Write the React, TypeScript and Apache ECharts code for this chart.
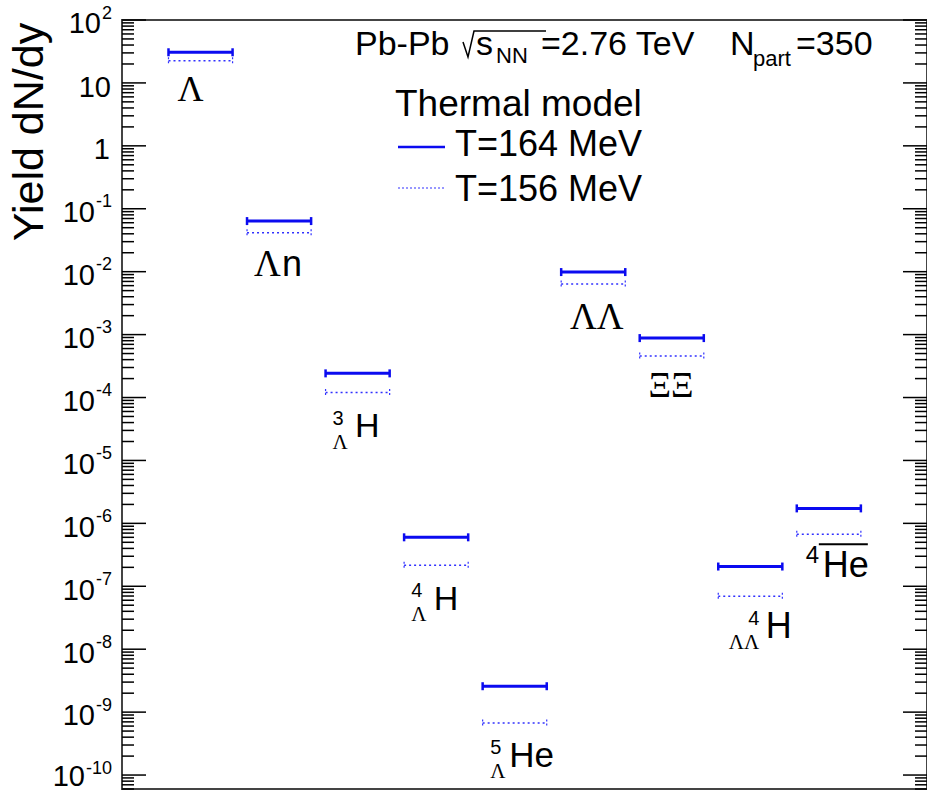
import React, { useEffect, useRef } from "react";
import * as echarts from "echarts";

// ---------------- data ----------------
const particles = ["Λ", "Λn", "³ΛH", "⁴ΛH", "⁵ΛHe", "ΛΛ", "ΞΞ", "⁴ΛΛH", "⁴He(bar)"];
const positions = [1, 2, 3, 4, 5, 6, 7, 8, 9];
const yieldT164 = [30.7, 0.0637, 2.42e-4, 6.0e-7, 2.58e-9, 9.86e-3, 8.8e-4, 2.06e-7, 1.73e-6];
const yieldT156 = [22.5, 0.0416, 1.2e-4, 2.16e-7, 6.73e-10, 6.35e-3, 4.55e-4, 6.96e-8, 6.73e-7];
const majorExponents = [-10, -9, -8, -7, -6, -5, -4, -3, -2, -1, 0, 1, 2];
const minorMultipliers = [2, 3, 4, 5, 6, 7, 8, 9];
const minorExponents = [-11, -10, -9, -8, -7, -6, -5, -4, -3, -2, -1, 0, 1];

const X_MIN = 0;
const X_MAX = 10.25;
const Y_MIN = 6e-11;
const Y_MAX = 100;
const HALF = 0.408;

const SANS = '"Liberation Sans", Arial, Helvetica, sans-serif';
const SERIF = '"Liberation Serif", "Times New Roman", serif';
const BLUE = "#0b0bf0";
const BLUE_DOT = "#3030ff";

type Piece = { t: string; dx: number; by: number; fs: number; serif?: boolean };
type Stack = { sup: string; sub: string; dx: number; by: number; align: string };
type Layout = { pieces: Piece[]; stack?: Stack; overline?: [number, number, number] };

// label layouts relative to (bar centre, T=156 line)
const labelLayouts: Layout[] = [
  { pieces: [{ t: "Λ", dx: -23, by: 41, fs: 36, serif: true }] },
  { pieces: [{ t: "Λ", dx: -25, by: 43.5, fs: 37, serif: true }, { t: "n", dx: 3, by: 43.5, fs: 36 }] },
  {
    stack: { sup: "3", sub: "Λ", dx: -25, by: 32, align: "left" },
    pieces: [{ t: "H", dx: -2.5, by: 44.5, fs: 34 }],
  },
  {
    stack: { sup: "4", sub: "Λ", dx: -25, by: 32, align: "left" },
    pieces: [{ t: "H", dx: -2.5, by: 44.5, fs: 34 }],
  },
  {
    stack: { sup: "5", sub: "Λ", dx: -24.4, by: 31.5, align: "left" },
    pieces: [{ t: "He", dx: -5.4, by: 44.3, fs: 35 }],
  },
  { pieces: [{ t: "ΛΛ", dx: -23.3, by: 45, fs: 37, serif: true }] },
  { pieces: [{ t: "ΞΞ", dx: -23.3, by: 42, fs: 35, serif: true }] },
  {
    stack: { sup: "4", sub: "ΛΛ", dx: 9, by: 28.5, align: "right" },
    pieces: [{ t: "H", dx: 15.5, by: 42, fs: 36 }],
  },
  {
    pieces: [
      { t: "4", dx: -23, by: 29, fs: 24 },
      { t: "He", dx: -6, by: 43, fs: 36 },
    ],
    overline: [-10, 39, 10],
  },
];

const barData = (vals: number[]) => positions.map((p, i) => [p, vals[i], i]);

function tickItems() {
  const items: number[][] = [];
  majorExponents.forEach((e) => items.push([X_MIN, Math.pow(10, e), 1, e]));
  minorExponents.forEach((e) =>
    minorMultipliers.forEach((k) => {
      const v = k * Math.pow(10, e);
      if (v >= Y_MIN && v <= Y_MAX) items.push([X_MIN, v, 0, e]);
    })
  );
  return items;
}

function supWidth(s: string, fs: number) {
  let w = 0;
  for (const ch of s) w += ch === "-" ? 0.333 : 0.556;
  return w * fs;
}

function txt(t: string, x: number, baseline: number, fs: number, family = SANS, align = "left") {
  return {
    type: "text",
    x,
    y: baseline - 0.35 * fs,
    silent: true,
    style: { text: t, fontSize: fs, fontFamily: family, fill: "#000", align, verticalAlign: "middle" },
  };
}

const SUP_FS = 20;
const SUB_FS = 21;
const STACK_LH = 24;

function stackText(s: Stack, cx: number, cy: number) {
  return {
    type: "text",
    x: cx + s.dx,
    y: cy + s.by - (STACK_LH / 2 + 0.35 * SUP_FS),
    silent: true,
    style: {
      text: `{a|${s.sup}}\n{b|${s.sub}}`,
      align: s.align,
      verticalAlign: "top",
      fill: "#000",
      rich: {
        a: { fontSize: SUP_FS, fontFamily: SANS, lineHeight: STACK_LH, fill: "#000", align: s.align },
        b: { fontSize: SUB_FS, fontFamily: SERIF, lineHeight: STACK_LH, fill: "#000", align: s.align },
      },
    },
  };
}

export default function App() {
  const ref = useRef<HTMLDivElement>(null);
  useEffect(() => {
    if (!ref.current) return;
    const chart = echarts.init(ref.current, undefined, { renderer: "svg" });

    const barRender = (solid: boolean) => (params: any, api: any) => {
      const x = api.value(0);
      const v = api.value(1);
      const a = api.coord([x - HALF, v]);
      const b = api.coord([x + HALF, v]);
      const st = solid
        ? { stroke: BLUE, lineWidth: 3 }
        : { stroke: BLUE_DOT, lineWidth: 1.5, lineDash: [2, 3] };
      const capSt = solid ? { stroke: BLUE, lineWidth: 2.5 } : { stroke: BLUE_DOT, lineWidth: 1.2, lineDash: [2, 2] };
      const h = solid ? 4 : 3.5;
      return {
        type: "group",
        children: [
          { type: "line", shape: { x1: a[0], y1: a[1], x2: b[0], y2: b[1] }, style: st },
          { type: "line", shape: { x1: a[0], y1: a[1] - h, x2: a[0], y2: a[1] + h }, style: capSt },
          { type: "line", shape: { x1: b[0], y1: b[1] - h, x2: b[0], y2: b[1] + h }, style: capSt },
        ],
      };
    };

    const labelRender = (params: any, api: any) => {
      const x = api.value(0);
      const v = api.value(1);
      const i = api.value(2);
      const c = api.coord([x, v]);
      const lay = labelLayouts[i];
      const children: any[] = lay.pieces.map((p) =>
        txt(p.t, c[0] + p.dx, c[1] + p.by, p.fs, p.serif ? SERIF : SANS)
      );
      if (lay.stack) children.push(stackText(lay.stack, c[0], c[1]));
      if (lay.overline) {
        const [x1, x2, dy] = lay.overline;
        children.push({
          type: "line",
          shape: { x1: c[0] + x1, y1: c[1] + dy, x2: c[0] + x2, y2: c[1] + dy },
          style: { stroke: "#000", lineWidth: 2 },
        });
      }
      return { type: "group", children };
    };

    const tickRender = (params: any, api: any) => {
      const v = api.value(1);
      const major = api.value(2) === 1;
      const e = api.value(3);
      const p = api.coord([X_MIN, v]);
      const q = api.coord([X_MAX, v]);
      const len = major ? 24 : 12;
      const children: any[] = [
        { type: "line", shape: { x1: p[0], y1: p[1], x2: p[0] + len, y2: p[1] }, style: { stroke: "#000", lineWidth: 1.5 } },
        { type: "line", shape: { x1: q[0], y1: q[1], x2: q[0] - len, y2: q[1] }, style: { stroke: "#000", lineWidth: 1.5 } },
      ];
      if (major) {
        const right = p[0] - 10;
        const base = e === -10 ? 11.5 : 13.5;
        if (e === 0) children.push(txt("1", right - 2, p[1] + base, 29, SANS, "right"));
        else if (e === 1) children.push(txt("10", right - 1, p[1] + base + 1, 29, SANS, "right"));
        else {
          const s = String(e);
          const fs = 18;
          children.push(txt(s, right, p[1] - 1, fs, SANS, "right"));
          children.push(txt("10", right - supWidth(s, fs) - 1, p[1] + base, 29, SANS, "right"));
        }
      }
      return { type: "group", children };
    };

    const option: any = {
      animation: false,
      backgroundColor: "#fff",
      grid: { left: 122, right: 0, top: 20, bottom: 2, show: true, borderColor: "#444", borderWidth: 2, backgroundColor: "transparent" },
      xAxis: { type: "value", min: X_MIN, max: X_MAX, show: false },
      yAxis: {
        type: "log",
        min: Y_MIN,
        max: Y_MAX,
        axisLine: { show: false },
        axisTick: { show: false },
        axisLabel: { show: false },
        splitLine: { show: false },
      },
      series: [
        { type: "custom", name: "ticks", data: tickItems(), renderItem: tickRender, clip: false, silent: true },
        { type: "custom", name: "T=164 MeV", data: barData(yieldT164), renderItem: barRender(true), clip: false, silent: true },
        { type: "custom", name: "T=156 MeV", data: barData(yieldT156), renderItem: barRender(false), clip: false, silent: true },
        { type: "custom", name: "labels", data: barData(yieldT156), renderItem: labelRender, clip: false, silent: true },
      ],
      graphic: [
        {
          type: "text",
          x: 28,
          y: 132,
          rotation: Math.PI / 2,
          silent: true,
          style: { text: "Yield dN/dy", fontSize: 43, fontFamily: SANS, fill: "#000", align: "center", verticalAlign: "middle" },
        },
        txt("Pb-Pb", 355, 55, 34),
        {
          type: "polyline",
          silent: true,
          shape: { points: [[463, 42], [468, 57], [474, 31], [546, 31]] },
          style: { stroke: "#000", lineWidth: 1.5, fill: "none" },
        },
        txt("s", 476, 55, 34),
        txt("NN", 496, 63, 22),
        txt("=2.76 TeV", 541, 55, 34),
        txt("N", 730, 55, 34),
        txt("part", 753, 66, 22),
        txt("=350", 796, 55, 34),
        txt("Thermal model", 395, 116, 37),
        {
          type: "line",
          silent: true,
          shape: { x1: 398, y1: 147, x2: 445, y2: 147 },
          style: { stroke: BLUE, lineWidth: 2.5 },
        },
        txt("T=164 MeV", 455, 156, 36),
        {
          type: "line",
          silent: true,
          shape: { x1: 398, y1: 188, x2: 445, y2: 188 },
          style: { stroke: BLUE_DOT, lineWidth: 1.2, lineDash: [2, 2] },
        },
        txt("T=156 MeV", 455, 201, 36),
      ],
    };
    chart.setOption(option);
    return () => chart.dispose();
  }, []);
  return (
    <div
      ref={ref}
      style={{ position: "absolute", left: 0, top: 0, width: 927, height: 791, background: "#fff" }}
    />
  );
}
